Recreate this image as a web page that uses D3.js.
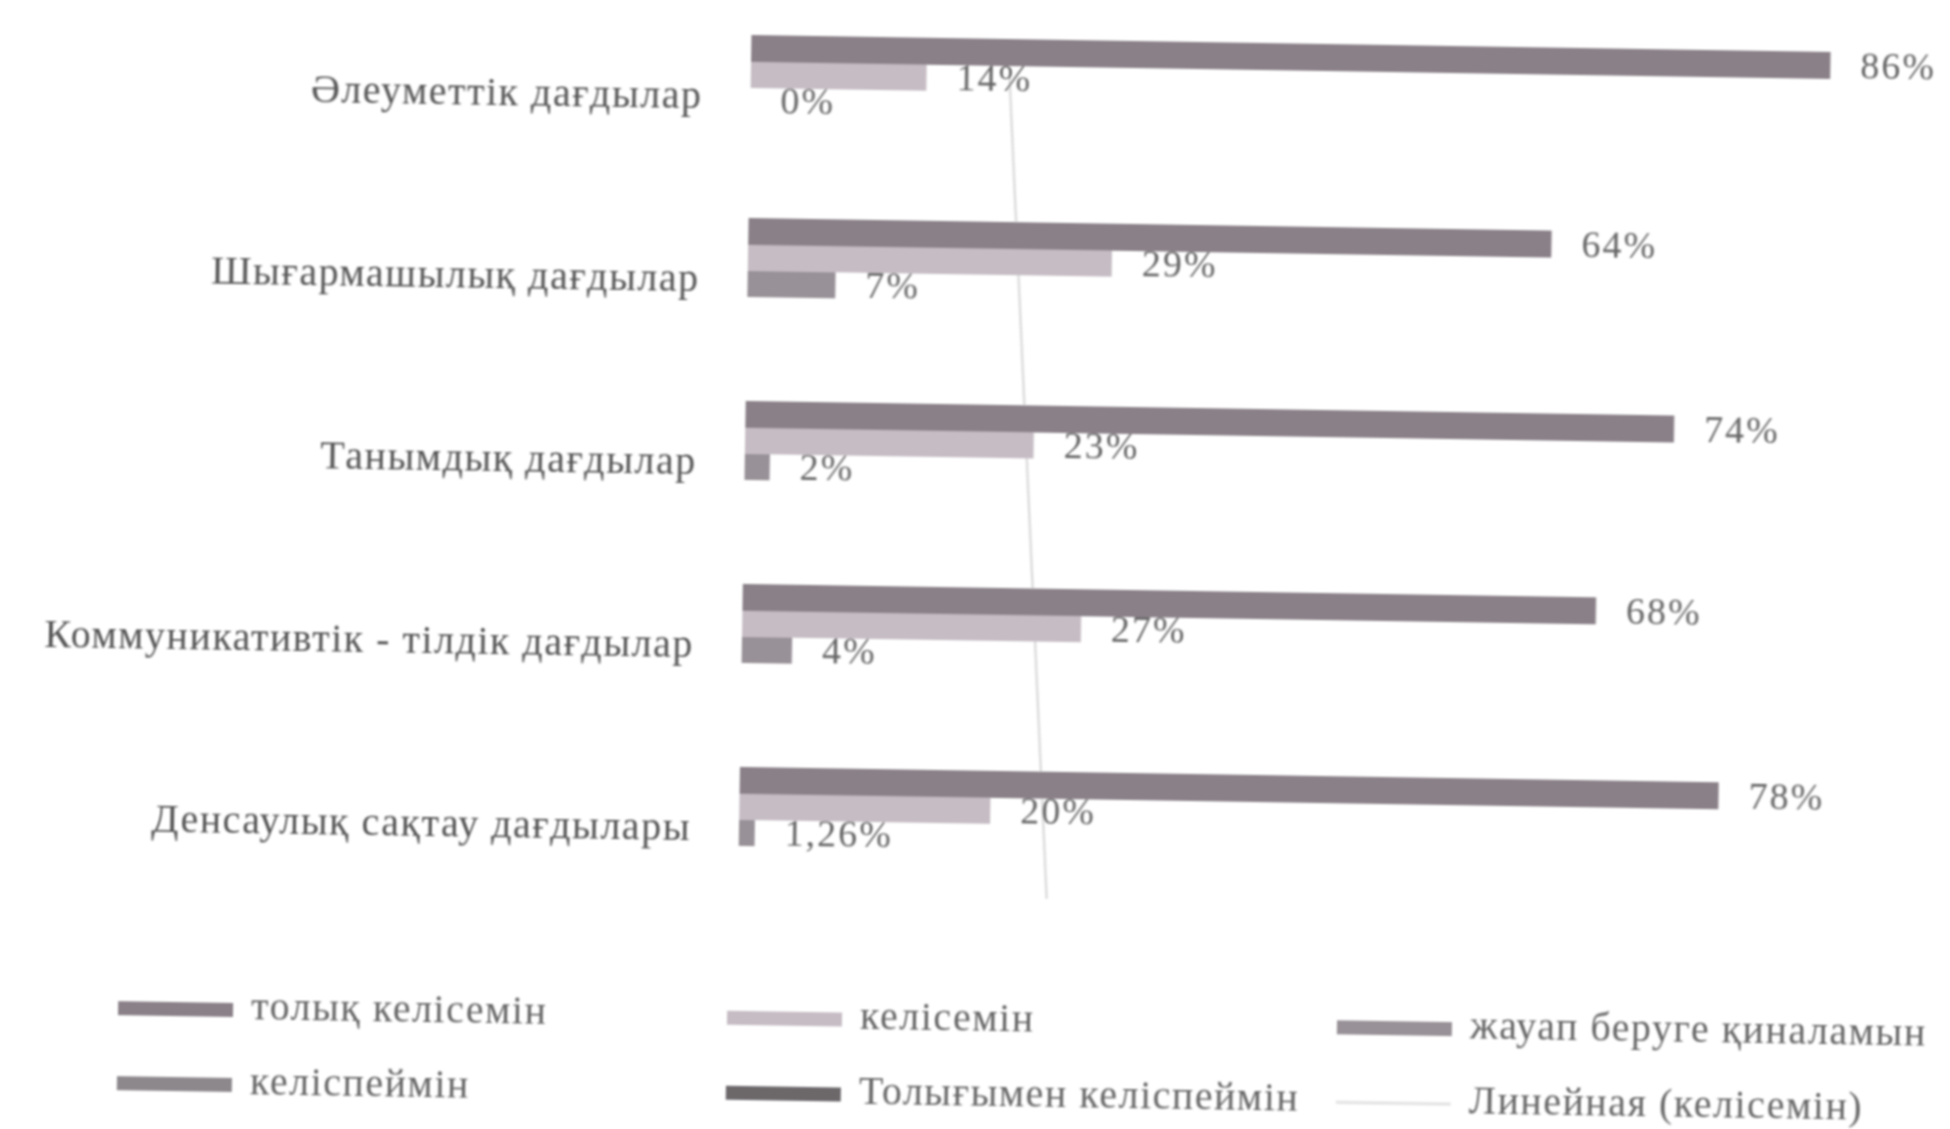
<!DOCTYPE html>
<html>
<head>
<meta charset="utf-8">
<script src="https://cdn.jsdelivr.net/npm/d3@7"></script>
<style>
  body { margin: 0; background: #fff; }
  text { font-family: "Liberation Serif", "DejaVu Serif", serif; }
</style>
</head>
<body>
<script>
// Categories (top to bottom)
const categories = [
    "Әлеуметтік дағдылар",
    "Шығармашылық дағдылар",
    "Танымдық дағдылар",
    "Коммуникативтік - тілдік дағдылар",
    "Денсаулық сақтау дағдылары"
];

// Series values, %
const fullyAgree = [86, 64, 74, 68, 78];
const agree = [14, 29, 23, 27, 20];
const hardToAnswer = [0, 7, 2, 4, 1.26];

// Legend names
const seriesNames = ["толық келісемін", "келісемін", "жауап беруге қиналамын", "келіспеймін", "Толығымен келіспеймін"];
const trendName = "Линейная (келісемін)";
const seriesColors = ["#8a8188", "#c6bdc4", "#989197", "#8d888c", "#6c686b"];

const width = 1950, height = 1129;

const svg = d3.select("body").append("svg")
    .attr("width", width)
    .attr("height", height);

// soft scan look
svg.append("defs").append("filter")
    .attr("id", "soft")
    .append("feGaussianBlur")
    .attr("stdDeviation", 0.9);

// the scan is tilted a little
const g = svg.append("g")
    .attr("transform", "rotate(0.9,752,0)")
    .attr("filter", "url(#soft)");

// Scales
const x = d3.scaleLinear().domain([0, 100]).range([752, 2007]);
const y = d3.scaleBand().domain(categories).range([35, 950]);
const ySub = d3.scaleBand().domain(seriesNames).range([0, 130]);

const series = [
    { name: seriesNames[0], values: fullyAgree, color: seriesColors[0] },
    { name: seriesNames[1], values: agree, color: seriesColors[1] },
    { name: seriesNames[2], values: hardToAnswer, color: seriesColors[2] }
];

const fmt = v => String(v).replace(".", ",") + "%";

// Linear trend of "келісемін"
const n = agree.length;
const mx = d3.mean(agree, (d, i) => i), my = d3.mean(agree);
const slope = d3.sum(agree, (d, i) => (i - mx) * (d - my)) / d3.sum(agree, (d, i) => (i - mx) * (i - mx));
const trend = i => my + slope * (i - mx);
const cy = i => y(categories[i]) + ySub.range()[1] / 2;

g.append("line")
    .attr("x1", x(trend(0))).attr("y1", cy(0) - 30)
    .attr("x2", x(trend(n - 1))).attr("y2", cy(n - 1) + 62)
    .attr("stroke", "#dcdcdc")
    .attr("stroke-width", 2.5);

// Bars
series.slice().reverse().forEach(s => {
    g.selectAll(null)
        .data(s.values)
        .enter().append("rect")
        .attr("x", x(0))
        .attr("y", (d, i) => y(categories[i]) + ySub(s.name))
        .attr("width", d => x(d) - x(0))
        .attr("height", ySub.bandwidth() + 1)
        .attr("fill", s.color);
});

// Value labels
series.forEach(s => {
    g.selectAll(null)
        .data(s.values)
        .enter().append("text")
        .attr("x", d => x(d) + 30)
        .attr("y", (d, i) => y(categories[i]) + ySub(s.name) + ySub.bandwidth() / 2 + 4)
        .attr("dominant-baseline", "middle")
        .attr("font-size", 38)
        .attr("letter-spacing", 2)
        .attr("fill", "#666")
        .text(fmt);
});

// Category labels
g.selectAll(".cat")
    .data(categories)
    .enter().append("text")
    .attr("class", "cat")
    .attr("x", x(0) - 48)
    .attr("y", d => y(d) + ySub.range()[1] / 2)
    .attr("text-anchor", "end")
    .attr("dominant-baseline", "middle")
    .attr("font-size", 40)
    .attr("letter-spacing", 1.5)
    .attr("fill", "#555")
    .text(d => d);

// Legend
const legendItems = seriesNames.map((d, i) => ({ name: d, color: seriesColors[i] }))
    .concat([{ name: trendName, color: "#e2e2e2", line: true }]);
const colX = [134, 743, 1353], rowY = [1018, 1093];

const lg = g.selectAll(".leg")
    .data(legendItems)
    .enter().append("g")
    .attr("class", "leg")
    .attr("transform", (d, i) => "translate(" + colX[i % 3] + "," + rowY[Math.floor(i / 3)] + ")");

lg.filter(d => !d.line).append("rect")
    .attr("x", 0).attr("y", -7)
    .attr("width", 115).attr("height", 14)
    .attr("fill", d => d.color);

lg.filter(d => d.line).append("line")
    .attr("x1", 0).attr("x2", 115)
    .attr("stroke", d => d.color)
    .attr("stroke-width", 3);

lg.append("text")
    .attr("x", 133)
    .attr("dominant-baseline", "middle")
    .attr("font-size", 40)
    .attr("letter-spacing", 1.5)
    .attr("fill", "#666")
    .text(d => d.name);
</script>
</body>
</html>
